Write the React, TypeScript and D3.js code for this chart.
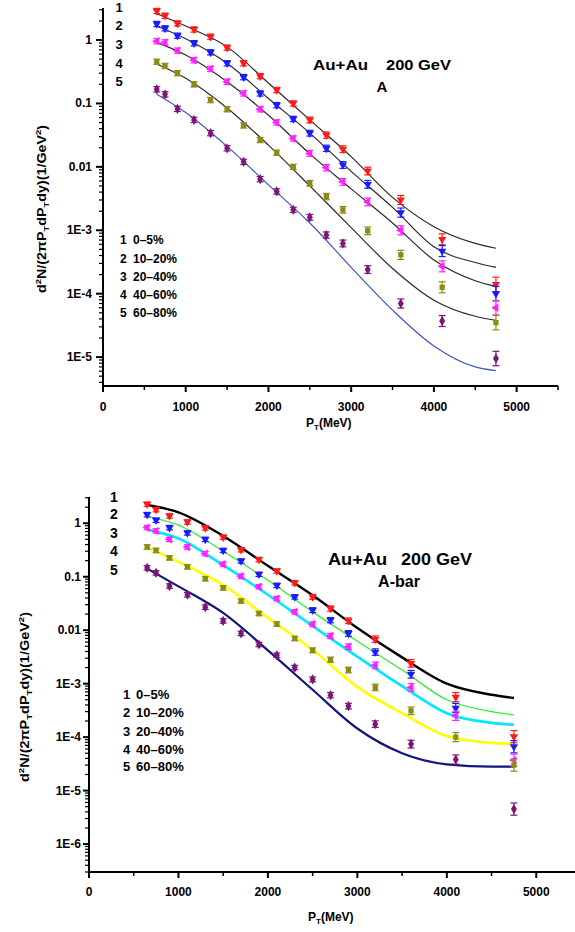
import React from "react";
import * as d3 from "d3";

// ---------- data ----------
const pT = [650, 750, 900, 1100, 1300, 1500, 1700, 1900, 2100, 2300, 2500, 2700, 2900, 3200, 3600, 4100, 4750];
const curvePT = [650, 1000, 1500, 2000, 2500, 3000, 3500, 4000, 4500, 4750];
const errRel = [0.1, 0.1, 0.1, 0.1, 0.1, 0.1, 0.1, 0.1, 0.1, 0.1, 0.11, 0.12, 0.13, 0.15, 0.18, 0.22, 0.3];

const seriesIds = ["1", "2", "3", "4", "5"];
const legendLabels = ["0\u20135%", "10\u201320%", "20\u201340%", "40\u201360%", "60\u201380%"];
const markerColors = ["#ff1a1a", "#1a1aff", "#ff22ff", "#8c8c14", "#7d1478"];
const markerShapes = ["down", "down", "left", "square", "diamond"];

// Panel A (top): data points
const A1 = [2.87, 2.42, 1.83, 1.47, 1.13, 0.76, 0.43, 0.27, 0.163, 0.1, 0.055, 0.0317, 0.019, 0.0086, 0.003, 7.2e-4, 1.4e-4];
const A2 = [1.79, 1.53, 1.17, 0.89, 0.64, 0.43, 0.26, 0.144, 0.094, 0.057, 0.034, 0.0196, 0.0107, 0.0053, 0.0019, 4.7e-4, 1.0e-4];
const A3 = [0.96, 0.92, 0.68, 0.48, 0.35, 0.22, 0.144, 0.081, 0.05, 0.028, 0.0163, 0.0097, 0.0058, 0.0028, 1.0e-3, 2.7e-4, 6.0e-5];
const A4 = [0.455, 0.39, 0.3, 0.2, 0.113, 0.081, 0.045, 0.0265, 0.0167, 0.01, 0.0055, 0.0034, 0.0021, 9.8e-4, 4.1e-4, 1.26e-4, 3.5e-5];
const A5 = [0.167, 0.139, 0.082, 0.055, 0.034, 0.0196, 0.012, 0.0064, 0.0041, 0.0021, 0.0016, 8.4e-4, 6.2e-4, 2.4e-4, 7.0e-5, 3.7e-5, 9.5e-6];
// Panel A: model curves
const CA1 = [2.6, 1.66, 0.78, 0.21, 0.055, 0.0145, 0.0033, 1.14e-3, 6.2e-4, 5.2e-4];
const CA2 = [1.65, 1.05, 0.43, 0.12, 0.034, 0.0085, 0.0023, 5.5e-4, 3.1e-4, 2.6e-4];
const CA3 = [0.92, 0.58, 0.22, 0.065, 0.016, 0.0045, 0.0013, 3.4e-4, 1.6e-4, 1.3e-4];
const CA4 = [0.42, 0.25, 0.085, 0.022, 0.005, 0.0011, 2.5e-4, 7.9e-5, 4.4e-5, 3.8e-5];
const CA5 = [0.14, 0.072, 0.021, 0.0052, 0.0013, 2.6e-4, 5.5e-5, 1.5e-5, 7e-6, 6.1e-6];

// Panel A-bar (bottom): data points
const B1 = [2.27, 1.8, 1.37, 1.06, 0.82, 0.55, 0.32, 0.21, 0.128, 0.077, 0.042, 0.0254, 0.015, 0.0068, 0.0024, 5.6e-4, 1.02e-4];
const B2 = [1.45, 1.14, 0.83, 0.66, 0.5, 0.31, 0.197, 0.111, 0.069, 0.042, 0.0237, 0.0154, 0.0087, 0.0039, 0.0015, 3.5e-4, 6.6e-5];
const B3 = [0.83, 0.72, 0.5, 0.36, 0.27, 0.171, 0.102, 0.065, 0.039, 0.022, 0.0129, 0.0078, 0.0049, 0.0022, 8.5e-4, 2.5e-4, 3.7e-5];
const B4 = [0.36, 0.31, 0.225, 0.153, 0.092, 0.062, 0.035, 0.0205, 0.013, 0.007, 0.0042, 0.0028, 0.0018, 8.5e-4, 3.1e-4, 1.0e-4, 3.0e-5];
const B5 = [0.146, 0.118, 0.067, 0.046, 0.027, 0.0149, 0.0087, 0.0054, 0.0034, 0.002, 0.0012, 6.1e-4, 3.8e-4, 1.75e-4, 7.4e-5, 3.8e-5, 4.5e-6];
// Panel A-bar: model curves
const CB1 = [2.2, 1.6, 0.58, 0.16, 0.045, 0.011, 0.0031, 1.0e-3, 6.2e-4, 5.4e-4];
const CB2 = [1.35, 0.92, 0.3, 0.086, 0.022, 0.0062, 0.0018, 5e-4, 3.0e-4, 2.6e-4];
const CB3 = [0.76, 0.52, 0.165, 0.046, 0.012, 0.0032, 9e-4, 2.8e-4, 1.85e-4, 1.7e-4];
const CB4 = [0.35, 0.19, 0.07, 0.017, 0.0043, 8.7e-4, 2.8e-4, 1.05e-4, 7.8e-5, 7.4e-5];
const CB5 = [0.142, 0.066, 0.021, 0.0042, 7.7e-4, 1.45e-4, 5e-5, 3.1e-5, 2.8e-5, 2.8e-5];

const xTicks = [0, 1000, 2000, 3000, 4000, 5000];
const xMinorTicks = [500, 1500, 2500, 3500, 4500, 5500];
const topYTicks = [1, 0.1, 0.01, 1e-3, 1e-4, 1e-5];
const topYLabels = ["1", "0.1", "0.01", "1E-3", "1E-4", "1E-5"];
const botYTicks = [1, 0.1, 0.01, 1e-3, 1e-4, 1e-5, 1e-6];
const botYLabels = ["1", "0.1", "0.01", "1E-3", "1E-4", "1E-5", "1E-6"];

const topCurveColors = ["#2a2a2a", "#2a2a2a", "#2a2a2a", "#2a2a2a", "#4455bb"];
const topCurveWidths = [1.2, 1.2, 1.2, 1.2, 1.2];
const botCurveColors = ["#000000", "#33ee33", "#00e8ff", "#ffff00", "#141480"];
const botCurveWidths = [2.4, 1.3, 2.6, 2.6, 2.2];

const FONT = "'Liberation Sans', Arial, Helvetica, sans-serif";

function Marker({ x, y, shape, color }: any) {
  let d = "";
  let rot = 0;
  if (shape === "down") {
    d = d3.symbol().type(d3.symbolTriangle).size(30)() as string;
    rot = 180;
  } else if (shape === "left") {
    d = d3.symbol().type(d3.symbolTriangle).size(30)() as string;
    rot = -90;
  } else if (shape === "square") {
    d = d3.symbol().type(d3.symbolSquare).size(28)() as string;
  } else {
    d = d3.symbol().type(d3.symbolDiamond).size(30)() as string;
  }
  return <path d={d} transform={`translate(${x},${y}) rotate(${rot})`} fill={color} />;
}

function Panel(props: any) {
  const {
    xRange, yDomain, yRange, points, curves, curveColors, curveWidths,
    yTicks, yLabels, majorLen, labelGap, xLabelY, yLabelX, yLabelY, yLabelLen,
    xTitleX, xTitleY, numX, numY, numFont, legX, legTextX, legY, legFont,
    title1, title2, sub, subX, subY, titleY, titleFont,
  } = props;
  const x = d3.scaleLinear().domain([0, 5500]).range(xRange);
  const y = d3.scaleLog().domain(yDomain).range(yRange);
  const line = d3
    .line<[number, number]>()
    .x((d) => x(d[0]))
    .y((d) => y(d[1]))
    .curve(d3.curveMonotoneX);

  const minor: number[] = [];
  for (let e = -8; e <= 1; e++) {
    for (let k = 2; k <= 9; k++) {
      const v = k * Math.pow(10, e);
      if (v >= yDomain[0] && v <= yDomain[1]) minor.push(v);
    }
  }
  const x0 = xRange[0];
  const yb = yRange[0];

  return (
    <g fontFamily={FONT} fontWeight="bold">
      {curves.map((c: number[], i: number) => (
        <path
          key={"c" + i}
          d={line(curvePT.map((p, j) => [p, c[j]]) as [number, number][]) as string}
          fill="none"
          stroke={curveColors[i]}
          strokeWidth={curveWidths[i]}
        />
      ))}
      {points.map((s: number[], i: number) => (
        <g key={"s" + i} stroke={markerColors[i]}>
          {s.map((v, j) => {
            const px = x(pT[j]);
            const hi = y(v * (1 + errRel[j]));
            const lo = y(v / (1 + errRel[j]));
            return (
              <g key={j}>
                <line x1={px} x2={px} y1={hi} y2={lo} strokeWidth={1.2} />
                <line x1={px - 3.5} x2={px + 3.5} y1={hi} y2={hi} strokeWidth={1.2} />
                <line x1={px - 3.5} x2={px + 3.5} y1={lo} y2={lo} strokeWidth={1.2} />
                <g stroke="none">
                  <Marker x={px} y={y(v)} shape={markerShapes[i]} color={markerColors[i]} />
                </g>
              </g>
            );
          })}
        </g>
      ))}
      <line x1={x0} x2={x0} y1={yRange[0] + 1} y2={yRange[1]} stroke="#000" strokeWidth={2} />
      <line x1={x0 - 1} x2={xRange[1]} y1={yb} y2={yb} stroke="#000" strokeWidth={2} />
      {yTicks.map((t: number, i: number) => (
        <g key={"yt" + i}>
          <line x1={x0 - majorLen} x2={x0} y1={y(t)} y2={y(t)} stroke="#000" strokeWidth={2} />
          <text x={x0 - labelGap} y={y(t) + 4} textAnchor="end" fontSize={12}>
            {yLabels[i]}
          </text>
        </g>
      ))}
      {minor.map((t, i) => (
        <line key={"ym" + i} x1={x0 - 4} x2={x0} y1={y(t)} y2={y(t)} stroke="#000" strokeWidth={1.2} />
      ))}
      {xTicks.map((t, i) => (
        <g key={"xt" + i}>
          <line x1={x(t)} x2={x(t)} y1={yb} y2={yb + 6} stroke="#000" strokeWidth={2} />
          <text x={x(t)} y={xLabelY} textAnchor="middle" fontSize={12}>
            {t}
          </text>
        </g>
      ))}
      {xMinorTicks.map((t, i) => (
        <line key={"xm" + i} x1={x(t)} x2={x(t)} y1={yb} y2={yb + 4} stroke="#000" strokeWidth={1.5} />
      ))}
      <text
        transform={`translate(${yLabelX},${yLabelY}) rotate(-90)`}
        textAnchor="middle"
        fontSize={12}
        textLength={yLabelLen}
        lengthAdjust="spacingAndGlyphs"
      >
        d<tspan dy={-5} fontSize={8}>2</tspan>
        <tspan dy={5}>N/(2πP</tspan>
        <tspan dy={3} fontSize={8}>T</tspan>
        <tspan dy={-3}>dP</tspan>
        <tspan dy={3} fontSize={8}>T</tspan>
        <tspan dy={-3}>dy)(1/GeV</tspan>
        <tspan dy={-5} fontSize={8}>2</tspan>
        <tspan dy={5}>)</tspan>
      </text>
      <text x={xTitleX} y={xTitleY} fontSize={12}>
        P<tspan dy={3} fontSize={8}>T</tspan>
        <tspan dy={-3}>(MeV)</tspan>
      </text>
      {seriesIds.map((s, i) => (
        <text key={"n" + i} x={numX} y={numY[i]} fontSize={numFont} textAnchor="middle">
          {s}
        </text>
      ))}
      {seriesIds.map((s, i) => (
        <g key={"l" + i} fontSize={legFont}>
          <text x={legX} y={legY[i]}>{s}</text>
          <text x={legTextX} y={legY[i]}>{legendLabels[i]}</text>
        </g>
      ))}
      <text x={title1[0]} y={titleY} fontSize={titleFont} textLength={title1[1]} lengthAdjust="spacingAndGlyphs">
        Au+Au
      </text>
      <text x={title2[0]} y={titleY} fontSize={titleFont} textLength={title2[1]} lengthAdjust="spacingAndGlyphs">
        200 GeV
      </text>
      <text x={subX} y={subY} fontSize={titleFont} textAnchor="middle">
        {sub}
      </text>
    </g>
  );
}

export default function App() {
  return (
    <svg
      width={575}
      height={932}
      style={{ position: "absolute", left: 0, top: 0, background: "#fff", display: "block" }}
    >
      <rect x={0} y={0} width={575} height={932} fill="#fff" />
      <Panel
        xRange={[103, 558]}
        yDomain={[3.5e-6, 3.2]}
        yRange={[386, 8]}
        points={[A1, A2, A3, A4, A5]}
        curves={[CA1, CA2, CA3, CA4, CA5]}
        curveColors={topCurveColors}
        curveWidths={topCurveWidths}
        yTicks={topYTicks}
        yLabels={topYLabels}
        majorLen={7}
        labelGap={11}
        xLabelY={411}
        yLabelX={46}
        yLabelY={209}
        yLabelLen={168}
        xTitleX={306}
        xTitleY={427}
        numX={119}
        numY={[12, 30, 49, 68, 86]}
        numFont={13}
        legX={120}
        legTextX={133}
        legY={[244, 263, 281, 299, 317]}
        legFont={12}
        title1={[313, 55]}
        title2={[386, 65]}
        titleY={70}
        titleFont={15}
        sub="A"
        subX={382}
        subY={92}
      />
      <Panel
        xRange={[89, 581]}
        yDomain={[3e-7, 3.1]}
        yRange={[872, 497]}
        points={[B1, B2, B3, B4, B5]}
        curves={[CB1, CB2, CB3, CB4, CB5]}
        curveColors={botCurveColors}
        curveWidths={botCurveWidths}
        yTicks={botYTicks}
        yLabels={botYLabels}
        majorLen={6}
        labelGap={8}
        xLabelY={896}
        yLabelX={29}
        yLabelY={697}
        yLabelLen={170}
        xTitleX={308}
        xTitleY={921}
        numX={114}
        numY={[502, 519, 538, 556, 575]}
        numFont={14}
        legX={123}
        legTextX={136}
        legY={[699, 717, 736, 754, 771]}
        legFont={13}
        title1={[328, 59]}
        title2={[401, 71]}
        titleY={565}
        titleFont={16}
        sub="A-bar"
        subX={399}
        subY={587}
      />
    </svg>
  );
}
